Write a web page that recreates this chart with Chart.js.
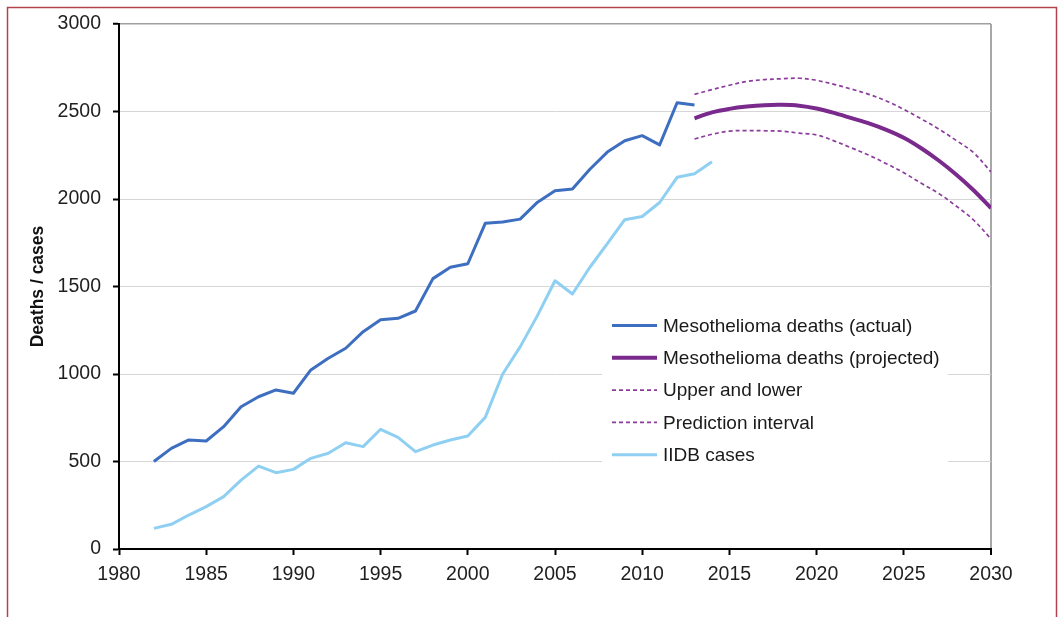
<!DOCTYPE html>
<html>
<head>
<meta charset="utf-8">
<title>Mesothelioma deaths and IIDB cases</title>
<script src="https://cdn.jsdelivr.net/npm/chart.js@4.4.1/dist/chart.umd.min.js"></script>
<style>
  html, body { margin: 0; padding: 0; background: #ffffff; }
  #wrap { position: relative; width: 1063px; height: 617px; }
  canvas { display: block; }
</style>
</head>
<body>
<div id="wrap"><canvas id="chart" width="1063" height="617"></canvas></div>
<script>
// Annual mesothelioma deaths (actual), 1982-2013
const actualYears = [1982,1983,1984,1985,1986,1987,1988,1989,1990,1991,1992,1993,1994,1995,1996,1997,
  1998,1999,2000,2001,2002,2003,2004,2005,2006,2007,2008,2009,2010,2011,2012,2013];
const actualDeaths = [500,575,623,617,699,813,870,909,890,1023,1090,1147,1242,1310,1318,1360,
  1545,1610,1630,1861,1868,1885,1982,2047,2057,2170,2268,2333,2362,2309,2550,2537];

// Projected deaths with prediction interval, 2013-2030
const projYears = [2013,2014,2015,2016,2017,2018,2019,2020,2021,2022,2023,2024,2025,2026,2027,2028,2029,2030];
const projDeaths = [2461,2495,2515,2528,2536,2538,2533,2517,2492,2462,2432,2395,2350,2290,2220,2140,2050,1948];
const projUpper = [2598,2625,2650,2672,2682,2687,2690,2678,2655,2628,2598,2560,2512,2458,2400,2335,2265,2155];
const projLower = [2343,2370,2388,2391,2390,2388,2376,2366,2332,2292,2250,2202,2150,2090,2032,1960,1880,1772];

// IIDB cases, 1982-2014
const iidbYears = [1982,1983,1984,1985,1986,1987,1988,1989,1990,1991,1992,1993,1994,1995,1996,1997,
  1998,1999,2000,2001,2002,2003,2004,2005,2006,2007,2008,2009,2010,2011,2012,2013,2014];
const iidbCases = [118,141,194,242,299,394,474,436,455,518,547,607,585,684,638,556,
  594,623,646,752,1000,1155,1335,1533,1457,1610,1745,1882,1900,1980,2124,2144,2213];

const seriesLabels = ['Mesothelioma deaths (actual)', 'Mesothelioma deaths (projected)',
  'Upper and lower', 'Prediction interval', 'IIDB cases'];
const yTicks = [0, 500, 1000, 1500, 2000, 2500, 3000];
const xTicks = [1980, 1985, 1990, 1995, 2000, 2005, 2010, 2015, 2020, 2025, 2030];
const yTitle = 'Deaths / cases';

const pts = (xs, ys) => xs.map((x, i) => ({ x: x, y: ys[i] }));

const FONT = '"Liberation Sans", Arial, Helvetica, sans-serif';
const BLUE = '#3d6ec0';
const LIGHT = '#8fd0f2';
const PURPLE = '#7a2a8c';
const PURPLE_DASH = '#8c3c9c';

// Page frame
const framePlugin = {
  id: 'frame',
  beforeDraw(chart) {
    const c = chart.ctx;
    c.save();
    c.strokeStyle = '#b2434c';
    c.lineWidth = 1.5;
    c.strokeRect(7.5, 7.5, 1049, 700);
    c.restore();
  }
};

// Boxed legend inside the plot area
const boxLegend = {
  id: 'boxLegend',
  afterDatasetsDraw(chart) {
    const c = chart.ctx;
    const x0 = 602, y0 = 306, w = 346, h = 166;
    const rowTop = 325.5, rowGap = 32.3;
    c.save();
    c.fillStyle = '#ffffff';
    c.fillRect(x0, y0, w, h);
    chart.data.datasets.forEach((ds, i) => {
      const y = rowTop + i * rowGap;
      c.beginPath();
      c.strokeStyle = ds.borderColor;
      c.lineWidth = ds.borderWidth;
      c.setLineDash(ds.borderDash || []);
      c.moveTo(612, y);
      c.lineTo(657, y);
      c.stroke();
      c.setLineDash([]);
      c.fillStyle = '#1a1a1a';
      c.font = '19px ' + FONT;
      c.textBaseline = 'middle';
      c.textAlign = 'left';
      c.fillText(ds.label, 663, y + 1);
    });
    c.restore();
  }
};

new Chart(document.getElementById('chart'), {
  type: 'line',
  data: {
    datasets: [
      { label: seriesLabels[0], data: pts(actualYears, actualDeaths), borderColor: BLUE, borderWidth: 3, tension: 0 },
      { label: seriesLabels[1], data: pts(projYears, projDeaths), borderColor: PURPLE, borderWidth: 4, tension: 0.35 },
      { label: seriesLabels[2], data: pts(projYears, projUpper), borderColor: PURPLE_DASH, borderWidth: 1.7, borderDash: [4, 3], tension: 0.35 },
      { label: seriesLabels[3], data: pts(projYears, projLower), borderColor: PURPLE_DASH, borderWidth: 1.7, borderDash: [4, 3], tension: 0.35 },
      { label: seriesLabels[4], data: pts(iidbYears, iidbCases), borderColor: LIGHT, borderWidth: 3, tension: 0 }
    ]
  },
  options: {
    responsive: false,
    animation: false,
    devicePixelRatio: 1,
    layout: { padding: { left: 0, right: 72, top: 24, bottom: 0 } },
    elements: {
      point: { radius: 0, hoverRadius: 0 },
      line: { fill: false, borderJoinStyle: 'round', borderCapStyle: 'butt' }
    },
    plugins: {
      legend: { display: false },
      tooltip: { enabled: false },
      title: { display: false }
    },
    scales: {
      x: {
        type: 'linear',
        min: 1980,
        max: 2030,
        afterBuildTicks(scale) { scale.ticks = xTicks.map(v => ({ value: v })); },
        afterFit(scale) { scale.height = 68; },
        border: { display: true, color: '#000000', width: 2 },
        grid: {
          drawOnChartArea: true,
          color: ctx => (ctx.tick && ctx.tick.value === 2030) ? '#a8a8a8' : 'rgba(0,0,0,0)',
          lineWidth: ctx => (ctx.tick && ctx.tick.value === 2030) ? 2 : 1,
          tickColor: '#000000',
          tickLength: 6,
          tickWidth: 2
        },
        ticks: {
          color: '#1f1f1f',
          font: { family: FONT, size: 19.5 },
          padding: 8,
          maxRotation: 0,
          callback: v => String(v)
        }
      },
      y: {
        min: 0,
        max: 3000,
        afterBuildTicks(scale) { scale.ticks = yTicks.map(v => ({ value: v })); },
        afterFit(scale) { scale.width = 119; },
        border: { display: true, color: '#000000', width: 2 },
        grid: {
          color: ctx => {
            const v = ctx.tick ? ctx.tick.value : null;
            if (v === 3000) return '#a0a0a0';
            if (v === 0) return 'rgba(0,0,0,0)';
            return '#d6d6d6';
          },
          lineWidth: ctx => (ctx.tick && ctx.tick.value === 3000) ? 1.5 : 1,
          tickColor: '#000000',
          tickLength: 6,
          tickWidth: 2
        },
        ticks: {
          color: '#1f1f1f',
          font: { family: FONT, size: 19.5 },
          padding: 12,
          callback: v => String(v)
        },
        title: {
          display: true,
          text: yTitle,
          color: '#111111',
          font: { family: FONT, size: 17.5, weight: 'bold' },
          padding: { top: 28, bottom: 0 }
        }
      }
    }
  },
  plugins: [framePlugin, boxLegend]
});
</script>
</body>
</html>
